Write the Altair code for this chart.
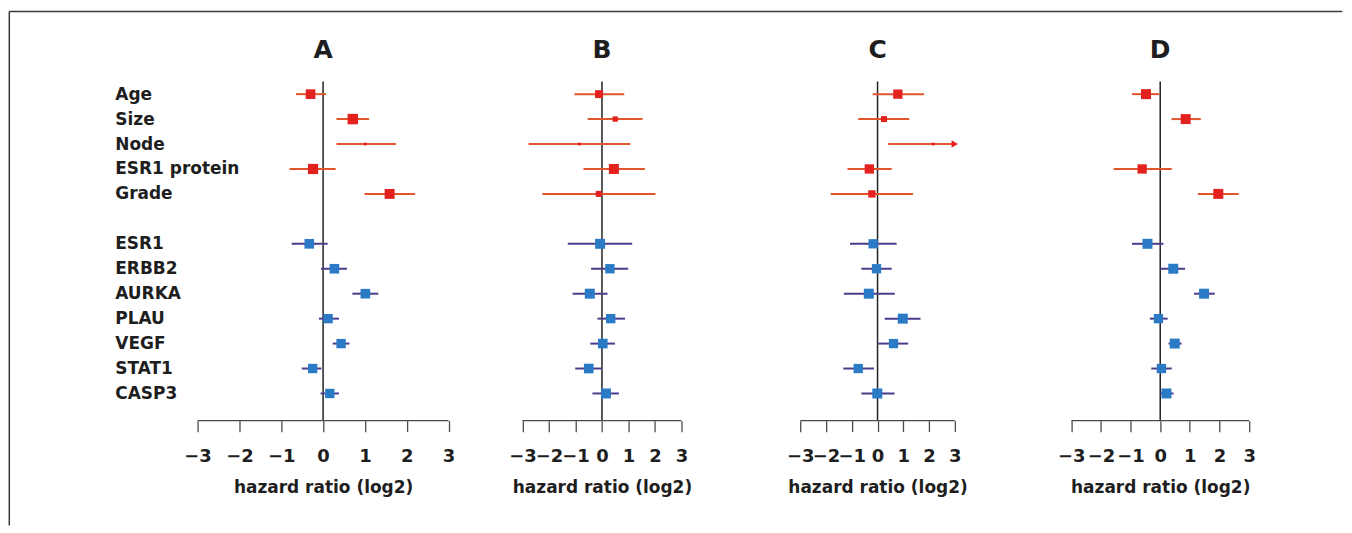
import altair as alt
import pandas as pd

# ---------------- data ----------------
variables = ["Age", "Size", "Node", "ESR1 protein", "Grade",
             "ESR1", "ERBB2", "AURKA", "PLAU", "VEGF", "STAT1", "CASP3"]
groups = ["clinical"] * 5 + ["gene"] * 7
panel_names = ["A", "B", "C", "D"]
tick_values = [-3, -2, -1, 0, 1, 2, 3]
x_title = "hazard ratio (log2)"

# log2 hazard ratio estimates, lower and upper CI, relative weight (box area)
A_est = [-0.30, 0.71, 1.01, -0.24, 1.59, -0.33, 0.27, 1.01, 0.12, 0.43, -0.25, 0.16]
A_lo = [-0.65, 0.32, 0.32, -0.80, 0.99, -0.75, -0.05, 0.70, -0.10, 0.23, -0.51, -0.06]
A_hi = [0.07, 1.10, 1.74, 0.30, 2.20, 0.11, 0.57, 1.32, 0.38, 0.63, -0.04, 0.38]
A_w = [0.85, 1.00, 0.07, 0.95, 0.90, 0.85, 0.85, 0.85, 0.80, 0.80, 0.80, 0.80]

B_est = [-0.11, 0.50, -0.85, 0.45, -0.12, -0.07, 0.30, -0.46, 0.33, 0.03, -0.50, 0.15]
B_lo = [-1.04, -0.54, -2.77, -0.70, -2.25, -1.29, -0.41, -1.11, -0.17, -0.44, -1.01, -0.36]
B_hi = [0.84, 1.53, 1.07, 1.62, 2.02, 1.14, 0.99, 0.21, 0.87, 0.49, -0.01, 0.64]
B_w = [0.58, 0.26, 0.07, 0.91, 0.33, 0.91, 0.80, 0.91, 0.80, 0.85, 0.85, 0.91]

C_est = [0.79, 0.25, 2.16, -0.32, -0.22, -0.17, -0.04, -0.34, 0.98, 0.62, -0.75, -0.01]
C_lo = [-0.19, -0.75, 0.41, -1.17, -1.82, -1.07, -0.63, -1.31, 0.28, 0.03, -1.33, -0.63]
C_hi = [1.81, 1.23, 3.60, 0.55, 1.38, 0.74, 0.55, 0.67, 1.67, 1.19, -0.14, 0.66]
C_w = [0.79, 0.33, 0.07, 0.79, 0.49, 0.79, 0.79, 0.91, 0.91, 0.79, 0.79, 0.91]

D_est = [-0.48, 0.86, None, -0.61, 1.96, -0.43, 0.44, 1.48, -0.06, 0.49, 0.04, 0.21]
D_lo = [-0.95, 0.38, None, -1.57, 1.27, -0.95, 0.01, 1.14, -0.35, 0.28, -0.30, 0.00]
D_hi = [-0.03, 1.37, None, 0.39, 2.65, 0.11, 0.84, 1.84, 0.25, 0.72, 0.39, 0.45]
D_w = [0.91, 0.91, None, 0.79, 0.91, 0.91, 0.91, 0.91, 0.79, 0.91, 0.79, 0.91]

series = {
    "A": (A_est, A_lo, A_hi, A_w),
    "B": (B_est, B_lo, B_hi, B_w),
    "C": (C_est, C_lo, C_hi, C_w),
    "D": (D_est, D_lo, D_hi, D_w),
}

# ---------------- layout / style ----------------
FONT = "DejaVu Sans"
TEXT = "#1e1e1e"
AXIS_C = "#4a4a4a"
FRAME_C = "#3a3a3a"
RED_BOX, RED_LINE = "#e3211f", "#e2542c"
BLUE_BOX, BLUE_LINE = "#2a7ac6", "#4a3d8c"

zero_px = {"A": 322.5, "B": 601.3, "C": 877.5, "D": 1160.8}
unit_px = {"A": 41.93, "B": 26.55, "C": 25.8, "D": 29.7}
edges = [196.7, 485.0, 741.0, 1014.0, 1300.0]
PLOT_TOP = 80.0          # page y of the plot-area top
HEIGHT = 340
Y_DOM = [0.49, 14.09]
FRAME = {"left": 8.0, "top": 10.0, "right": 1344.0, "bottom": 525.0}  # page coords

rows = []
r = 0
for i, g in enumerate(groups):
    r += 1
    if i > 0 and g != groups[i - 1]:
        r += 1
    rows.append(r)

label_lookup = [""] * (max(rows) + 1)
for v, rr in zip(variables, rows):
    label_lookup[rr] = v
label_expr = "[" + ",".join("'" + s + "'" for s in label_lookup) + "][datum.value]"

color_scale_line = alt.Scale(domain=["clinical", "gene"], range=[RED_LINE, BLUE_LINE])
color_scale_box = alt.Scale(domain=["clinical", "gene"], range=[RED_BOX, BLUE_BOX])


def make_panel(idx, p):
    est, lo, hi, w = series[p]
    df = pd.DataFrame({"var": variables, "group": groups, "row": rows,
                       "est": est, "lo": lo, "hi": hi, "w": w}).dropna()
    df["hi_c"] = df["hi"].clip(upper=3)
    df["trunc"] = df["hi"] > 3

    left, right = edges[idx], edges[idx + 1]
    z, u = zero_px[p], unit_px[p]
    dom = [(left - z) / u, (right - z) / u]
    width = right - left

    xs = alt.Scale(domain=dom, nice=False, zero=False)
    ys = alt.Scale(domain=Y_DOM, reverse=True, nice=False, zero=False)

    xaxis = alt.Axis(values=tick_values, domain=False, grid=False, tickSize=11,
                     tickColor=AXIS_C, tickWidth=1.3, labelFont=FONT, labelFontSize=18,
                     labelFontWeight="bold", labelColor=TEXT, labelPadding=16,
                     labelOverlap=False, labelFlush=False, format="d",
                     title=x_title, titleFont=FONT, titleFontSize=17, titleFontWeight="bold",
                     titleColor=TEXT, titleX=z - left, titleY=72, titleAlign="center",
                     titleBaseline="alphabetic")
    if idx == 0:
        yaxis = alt.Axis(values=rows, labelExpr=label_expr, domain=False, ticks=False,
                         tickSize=0, grid=False, labelAlign="left", labelPadding=83,
                         labelBaseline="middle", labelFont=FONT, labelFontSize=17,
                         labelFontWeight="bold", labelColor=TEXT, labelOverlap=False,
                         labelBound=False, title=None)
    else:
        yaxis = None

    X = lambda f: alt.X(f, scale=xs, axis=xaxis)
    Y = lambda f: alt.Y(f, scale=ys, axis=yaxis)

    one = pd.DataFrame({"k": [0]})
    zero_rule = alt.Chart(one).mark_rule(color="#222222", strokeWidth=1.5).encode(
        x=alt.datum(0, scale=xs, axis=xaxis)
    )
    axis_line = alt.Chart(one).mark_rule(color=AXIS_C, strokeWidth=1.3).encode(
        x=alt.datum(tick_values[0], scale=xs, axis=xaxis), x2=alt.datum(tick_values[-1]),
        y=alt.datum(Y_DOM[1], scale=ys, axis=yaxis)
    )
    panel_title = alt.Chart(one).mark_text(
        text=p, font=FONT, fontSize=25, fontWeight="bold", color=TEXT,
        align="center", baseline="alphabetic"
    ).encode(x=alt.datum(0, scale=xs, axis=xaxis), y=alt.value(57 - PLOT_TOP))

    base = alt.Chart(df)
    ci = base.mark_rule(strokeWidth=2).encode(
        x=X("lo:Q"), x2="hi_c:Q", y=Y("row:Q"),
        color=alt.Color("group:N", scale=color_scale_line, legend=None),
    )
    boxes = base.mark_square(filled=True, opacity=1).encode(
        x=X("est:Q"), y=Y("row:Q"),
        size=alt.Size("w:Q", scale=alt.Scale(domain=[0, 1.2], range=[0, 132]), legend=None),
        fill=alt.Fill("group:N", scale=color_scale_box, legend=None),
    )
    arrows = base.transform_filter("datum.trunc").mark_point(
        shape="triangle-right", filled=True, opacity=1, size=55
    ).encode(
        x=X("hi_c:Q"), y=Y("row:Q"),
        fill=alt.Fill("group:N", scale=color_scale_line, legend=None),
    )

    layers = [zero_rule, axis_line, ci, boxes, arrows, panel_title]

    if idx == 0:
        # figure frame (top and left border of the original figure box)
        fl, ft = FRAME["left"] - left, FRAME["top"] - PLOT_TOP
        fr, fb = FRAME["right"] - left, FRAME["bottom"] - PLOT_TOP
        frame_top = alt.Chart(one).mark_rule(color=FRAME_C, strokeWidth=1.5).encode(
            x=alt.value(fl), x2=alt.value(fr), y=alt.value(ft))
        frame_left = alt.Chart(one).mark_rule(color=FRAME_C, strokeWidth=1.5).encode(
            x=alt.value(fl), y=alt.value(ft), y2=alt.value(fb))
        layers += [frame_top, frame_left]

    return alt.layer(*layers).properties(
        width=width, height=HEIGHT,
        view=alt.ViewBackground(strokeWidth=0),
    )


panels = [make_panel(i, p) for i, p in enumerate(panel_names)]

chart = alt.hconcat(*panels, spacing=0, bounds="flush").properties(
    padding={"left": 0, "top": 2, "right": 0, "bottom": 0},
    background="white",
).configure_view(strokeWidth=0)

chart.save("out.html", embed_options={"renderer": "svg", "actions": False})
